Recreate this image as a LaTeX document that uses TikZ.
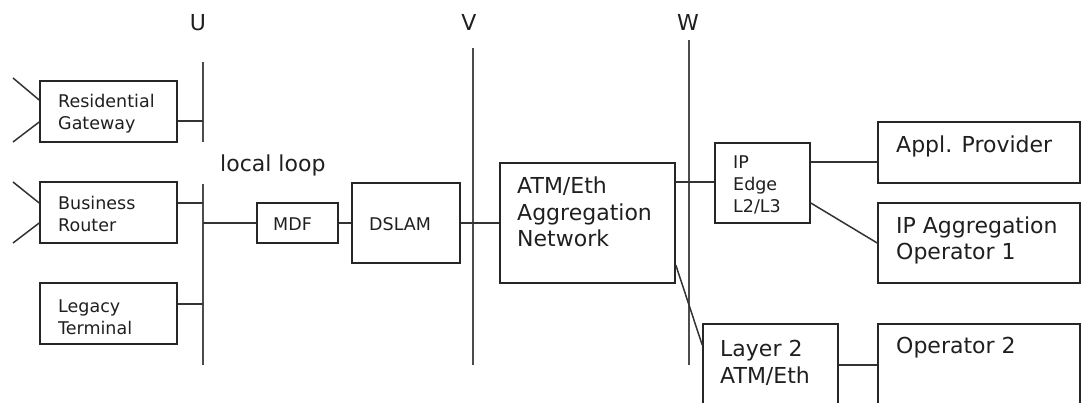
\documentclass[tikz,border=0pt]{standalone}
\usepackage{fontspec}
\setmainfont{DejaVu Sans}
\usetikzlibrary{fit}
\begin{document}
\begin{tikzpicture}[x=1pt,y=-1pt,
  box/.style={draw=black!85, line width=1.6pt, inner sep=0pt},
  wire/.style={draw=black!80, line width=1.5pt},
  refline/.style={draw=black!70, line width=1.6pt},
  small/.style={font=\fontsize{17.5}{22}\selectfont, text=black!88, align=left, inner sep=0pt, anchor=base west},
  large/.style={font=\fontsize{22}{26.5}\selectfont, text=black!88, align=left, inner sep=0pt, anchor=base west},
  refname/.style={font=\fontsize{22}{26.5}\selectfont, text=black!88, inner sep=0pt, anchor=base}]
\useasboundingbox (0,0) rectangle (1081,403);
\clip (0,0) rectangle (1081,403);

% reference points U, V, W
\node[refname] (ulab) at (198,31) {U};
\node[refname] (vlab) at (469,31) {V};
\node[refname] (wlab) at (688,31) {W};
\coordinate (uTop) at (203,62);
\coordinate (uGapA) at (203,142);
\coordinate (uGapB) at (203,184);
\coordinate (uBot) at (203,365);
\coordinate (vTop) at (473,48);
\coordinate (vBot) at (473,365);
\coordinate (wTop) at (689,40);
\coordinate (wBot) at (689,365);
\draw[refline] (uTop) -- (uGapA);
\draw[refline] (uGapB) -- (uBot);
\draw[refline] (vTop) -- (vBot);
\draw[refline] (wTop) -- (wBot);

% customer side (text anchored at the baseline of its last line)
\node[box, fit={(40,81) (177,142)}] (rg) {};
\node[box, fit={(40,182) (177,243)}] (br) {};
\node[box, fit={(40,283) (177,344)}] (lt) {};
\node[small] (rgt) at (58,130) {Residential\\Gateway};
\node[small] (brt) at (58,232) {Business\\Router};
\node[small] (ltt) at (58,334) {Legacy\\Terminal};
\node[large] (loop) at (220,172) {local loop};

% antennas
\coordinate (rgA) at (13,78);
\coordinate (rgB) at (13,142);
\coordinate (brA) at (13,182);
\coordinate (brB) at (13,243);
\draw[wire] (rgA) -- (rg.west |- 0,100);
\draw[wire] (rgB) -- (rg.west |- 0,122);
\draw[wire] (brA) -- (br.west |- 0,203);
\draw[wire] (brB) -- (br.west |- 0,223);

% taps on the local loop
\coordinate (uRG) at (203,121);
\coordinate (uBR) at (203,203);
\coordinate (uMDF) at (203,223);
\coordinate (uLT) at (203,304);
\draw[wire] (rg.east |- uRG) -- (uRG);
\draw[wire] (br.east |- uBR) -- (uBR);
\draw[wire] (lt.east |- uLT) -- (uLT);

% access network
\node[box, fit={(257,203) (338,243)}] (mdf) {};
\node[small] (mdft) at (273,231) {MDF};
\node[box, fit={(352,183) (460,263)}] (dslam) {};
\node[small] (dslamt) at (369,231) {DSLAM};
\node[box, fit={(500,163) (675,283)}] (atm) {};
\node[large] (atmt) at (517,247) {ATM/Eth\\Aggregation\\Network};

\draw[wire] (uMDF) -- (mdf.west |- uMDF);
\draw[wire] (mdf.east |- uMDF) -- (dslam.west |- uMDF);
\draw[wire] (dslam.east |- uMDF) -- (atm.west |- uMDF);

% service side
\node[box, fit={(715,143) (810,223)}] (ipe) {};
\node[small] (ipet) at (733,213) {IP\\Edge\\L2/L3};
\node[box, fit={(878,122) (1080,183)}] (appl) {};
\node[large] (applt) at (896,153) {Appl. Provider};
\node[box, fit={(878,203) (1080,283)}] (ipa) {};
\node[large] (ipat) at (896,260) {IP Aggregation\\Operator 1};
\node[box, fit={(703,324) (838,420)}] (l2) {};
\node[large] (l2t) at (720,383) {Layer 2\\ATM/Eth};
\node[box, fit={(878,324) (1080,420)}] (op2) {};
\node[large] (op2t) at (896,353) {Operator 2};

\draw[wire] (atm.east |- 0,182) -- (ipe.west |- 0,182);
\draw[wire] (atm.east |- 0,265) -- (l2.west |- 0,345);
\draw[wire] (ipe.east |- 0,162) -- (appl.west |- 0,162);
\draw[wire] (ipe.east |- 0,203) -- (ipa.west |- 0,243);
\draw[wire] (l2.east |- 0,365) -- (op2.west |- 0,365);
\end{tikzpicture}
\end{document}
